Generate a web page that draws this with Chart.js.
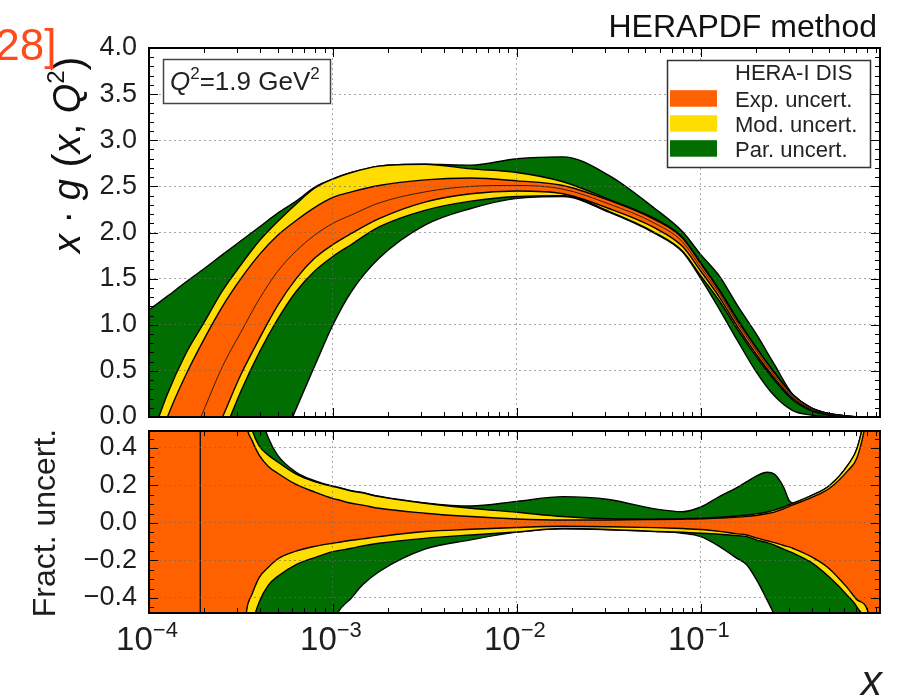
<!DOCTYPE html>
<html>
<head>
<meta charset="utf-8">
<script src="https://cdn.jsdelivr.net/npm/chart.js@4.4.1/dist/chart.umd.min.js"></script>
<style>
  html, body { margin: 0; padding: 0; background: #fff; }
  #wrap { position: relative; width: 900px; height: 698px; overflow: hidden; }
  canvas { position: absolute; left: 0; }
  #gluon { top: 0; }
  #ratio { top: 425px; }
</style>
</head>
<body>
<div id="wrap">
  <canvas id="gluon" width="900" height="440"></canvas>
  <canvas id="ratio" width="900" height="273"></canvas>
</div>
<script>
const FONT = '"Liberation Sans", Arial, sans-serif';

// x range and axis ticks
const X_MIN = 1e-4;
const X_MAX = 0.942;
const decadeTicks = [1e-4, 1e-3, 1e-2, 1e-1];
const decadeExponents = ['\u22124', '\u22123', '\u22122', '\u22121'];
const gluonTicks = [0, 0.5, 1, 1.5, 2, 2.5, 3, 3.5, 4];
const fracTicks = [-0.4, -0.2, 0, 0.2, 0.4];

// upper panel: x*g(x,Q^2) central value and band edges
const xg = [1.00e-4, 1.26e-4, 1.58e-4, 2.00e-4, 2.51e-4, 3.16e-4, 3.98e-4, 5.01e-4, 6.31e-4, 7.94e-4,
            1.00e-3, 1.26e-3, 1.78e-3, 3.16e-3, 5.62e-3, 1.00e-2, 1.78e-2, 3.16e-2, 5.62e-2, 7.94e-2,
            0.100, 0.126, 0.158, 0.200, 0.251, 0.316, 0.398, 0.501, 0.631, 0.794, 0.942];
const gCentral = [-1.2, -0.8, -0.38, 0.09, 0.55, 0.92, 1.28, 1.58, 1.80, 1.97,
                  2.10, 2.19, 2.32, 2.44, 2.50, 2.51, 2.47, 2.31, 2.10, 1.90,
                  1.62, 1.34, 1.02, 0.72, 0.45, 0.22, 0.09, 0.03, 0.008, 0.0, 0.0];
const gExpHi = [-0.6, 0.0, 0.45, 0.85, 1.20, 1.50, 1.76, 1.97, 2.13, 2.27,
                2.38, 2.44, 2.51, 2.57, 2.59, 2.56, 2.51, 2.35, 2.14, 1.94,
                1.66, 1.37, 1.05, 0.75, 0.48, 0.24, 0.10, 0.035, 0.01, 0.0, 0.0];
const gExpLo = [-1.7, -1.3, -0.9, -0.45, 0.0, 0.46, 0.85, 1.21, 1.50, 1.72,
                1.87, 1.99, 2.15, 2.33, 2.42, 2.45, 2.42, 2.26, 2.05, 1.85,
                1.58, 1.30, 0.98, 0.68, 0.42, 0.20, 0.075, 0.024, 0.006, 0.0, 0.0];
const gModHi = [-0.3, 0.25, 0.68, 1.03, 1.37, 1.65, 1.91, 2.12, 2.31, 2.48,
                2.58, 2.65, 2.72, 2.74, 2.69, 2.65, 2.55, 2.36, 2.15, 1.95,
                1.67, 1.38, 1.06, 0.755, 0.485, 0.245, 0.10, 0.035, 0.01, 0.0, 0.0];
const gModLo = [-1.8, -1.4, -1.0, -0.6, -0.2, 0.28, 0.70, 1.06, 1.36, 1.58,
                1.74, 1.87, 2.06, 2.24, 2.34, 2.39, 2.40, 2.23, 2.00, 1.80,
                1.53, 1.26, 0.95, 0.655, 0.40, 0.185, 0.07, 0.021, 0.005, 0.0, 0.0];
const gParHi = [1.16, 1.31, 1.46, 1.61, 1.76, 1.91, 2.06, 2.21, 2.34, 2.49,
                2.58, 2.65, 2.72, 2.74, 2.73, 2.80, 2.82, 2.62, 2.26, 2.01,
                1.76, 1.53, 1.21, 0.90, 0.57, 0.245, 0.10, 0.035, 0.01, 0.0, 0.0];
const gParLo = [-3.5, -3.0, -2.5, -2.05, -1.6, -1.2, -0.8, -0.38, 0.09, 0.55,
                1.0, 1.36, 1.72, 2.08, 2.26, 2.37, 2.39, 2.22, 1.99, 1.79,
                1.50, 1.17, 0.83, 0.49, 0.23, 0.07, 0.02, 0.005, 0.0, 0.0, 0.0];

// lower panel: fractional band edges
const xr = [1.00e-4, 3.16e-4, 3.39e-4, 3.63e-4, 3.98e-4, 4.47e-4, 5.01e-4, 6.31e-4, 7.94e-4, 1.00e-3,
            1.05e-3, 1.26e-3, 1.45e-3, 1.78e-3, 3.16e-3, 5.62e-3, 1.00e-2, 1.78e-2, 3.16e-2, 5.62e-2,
            7.94e-2, 0.100, 0.126, 0.158, 0.178, 0.200, 0.229, 0.251, 0.282, 0.302,
            0.316, 0.398, 0.501, 0.631, 0.708, 0.794, 0.871, 0.942];
const rExpHi = [0.8, 0.8, 0.52, 0.44, 0.36, 0.30, 0.265, 0.205, 0.165, 0.13,
                0.125, 0.105, 0.095, 0.078, 0.052, 0.034, 0.021, 0.016, 0.016, 0.018,
                0.02, 0.022, 0.026, 0.031, 0.035, 0.04, 0.05, 0.058, 0.075, 0.088,
                0.096, 0.135, 0.185, 0.28, 0.35, 0.56, 0.9, 1.0];
const rExpLo = [-0.8, -0.8, -0.47, -0.38, -0.29, -0.235, -0.192, -0.15, -0.125, -0.108,
                -0.105, -0.092, -0.085, -0.073, -0.046, -0.034, -0.024, -0.018, -0.02, -0.025,
                -0.03, -0.035, -0.045, -0.058, -0.064, -0.08, -0.095, -0.105, -0.12, -0.128,
                -0.135, -0.18, -0.245, -0.35, -0.41, -0.45, -0.62, -0.9];
const rModHi = [0.9, 0.9, 0.65, 0.5, 0.41, 0.36, 0.325, 0.26, 0.22, 0.194,
                0.19, 0.17, 0.16, 0.14, 0.105, 0.078, 0.057, 0.034, 0.022, 0.02,
                0.022, 0.025, 0.03, 0.037, 0.042, 0.048, 0.058, 0.068, 0.085, 0.097,
                0.105, 0.145, 0.20, 0.31, 0.40, 0.62, 0.95, 1.0];
const rModLo = [-0.9, -0.9, -0.75, -0.55, -0.42, -0.33, -0.285, -0.222, -0.185, -0.153,
                -0.149, -0.135, -0.122, -0.108, -0.082, -0.064, -0.048, -0.03, -0.035, -0.045,
                -0.05, -0.055, -0.06, -0.068, -0.073, -0.09, -0.105, -0.118, -0.14, -0.152,
                -0.16, -0.21, -0.29, -0.39, -0.45, -0.56, -0.9, -1.0];
const rParHi = [1.0, 1.0, 0.9, 0.8, 0.6, 0.45, 0.36, 0.27, 0.225, 0.196,
                0.192, 0.172, 0.162, 0.142, 0.107, 0.09, 0.115, 0.14, 0.125, 0.075,
                0.06, 0.085, 0.14, 0.19, 0.22, 0.25, 0.27, 0.26, 0.19, 0.12,
                0.105, 0.145, 0.20, 0.31, 0.40, 0.62, 0.95, 1.0];
const rParLo = [-1.0, -1.0, -1.0, -1.0, -1.0, -1.0, -1.0, -1.0, -1.0, -0.56,
                -0.49, -0.40, -0.33, -0.26, -0.14, -0.09, -0.049, -0.031, -0.036, -0.046,
                -0.055, -0.073, -0.125, -0.19, -0.224, -0.30, -0.41, -0.49, -0.62, -0.7,
                -0.75, -0.9, -1.0, -1.0, -1.0, -1.0, -1.0, -1.0];

// x where the central value crosses zero (ratio diverges)
const xZero = 1.9e-4;

const EXP_COLOR = '#ff6000';
const MOD_COLOR = '#ffdd00';
const PAR_COLOR = '#006e00';
const GRID_COLOR = 'rgba(105,105,105,0.6)';
const legendHeader = 'HERA-I DIS';

Chart.defaults.font.family = FONT;

const pts = (xs, ys) => xs.map((x, i) => ({ x, y: ys[i] }));

// two edges of one band; the lower edge carries the fill so both outlines sit on top
function band(xs, hi, lo, label, color, order) {
  return [
    { data: pts(xs, hi), borderColor: '#000', borderWidth: 1.4, fill: false, order },
    { label, data: pts(xs, lo), borderColor: '#000', borderWidth: 1.4, fill: '-1',
      backgroundColor: color, order }
  ];
}

function drawRuns(ctx, parts, x, y) {
  let cx = x;
  for (const p of parts) {
    ctx.font = p.font;
    ctx.fillText(p.text, cx, y + (p.dy || 0));
    cx += ctx.measureText(p.text).width;
  }
  return cx - x;
}
function runsWidth(ctx, parts) {
  let w = 0;
  for (const p of parts) { ctx.font = p.font; w += ctx.measureText(p.text).width; }
  return w;
}

// frame with inward major/minor ticks on all four sides
const frame = {
  id: 'frame',
  afterDraw(chart, args, opts) {
    const { ctx, chartArea: a, scales: { x, y } } = chart;
    ctx.save();
    ctx.strokeStyle = '#000';
    ctx.lineWidth = 1;
    ctx.beginPath();
    const tickX = (v, len) => {
      const p = Math.round(x.getPixelForValue(v)) + 0.5;
      ctx.moveTo(p, a.bottom); ctx.lineTo(p, a.bottom - len);
      ctx.moveTo(p, a.top); ctx.lineTo(p, a.top + len);
    };
    const tickY = (v, len) => {
      const p = Math.round(y.getPixelForValue(v)) + 0.5;
      ctx.moveTo(a.left, p); ctx.lineTo(a.left + len, p);
      ctx.moveTo(a.right, p); ctx.lineTo(a.right - len, p);
    };
    decadeTicks.forEach(d => {
      tickX(d, 9);
      for (let k = 2; k < 10; k++) if (k * d < X_MAX) tickX(k * d, 5);
    });
    const step = opts.minorStep;
    for (let k = Math.ceil(y.min / step); k * step <= y.max + 1e-9; k++) {
      const v = k * step;
      const major = opts.majors.some(m => Math.abs(m - v) < 1e-6);
      tickY(v, major ? 9 : 5);
    }
    ctx.stroke();
    ctx.lineWidth = 2;
    ctx.strokeRect(a.left, a.top, a.right - a.left, a.bottom - a.top);
    ctx.restore();
  }
};

// heading, y title, Q^2 box and legend of the upper panel
const gluonDecor = {
  id: 'gluonDecor',
  afterDraw(chart) {
    const { ctx, chartArea: a } = chart;
    ctx.save();
    ctx.textBaseline = 'alphabetic';
    ctx.fillStyle = '#111';
    ctx.font = '32px ' + FONT;
    ctx.textAlign = 'right';
    ctx.fillText('HERAPDF method', 877, 37);
    ctx.textAlign = 'left';

    ctx.save();
    ctx.translate(80, 253);
    ctx.rotate(-Math.PI / 2);
    drawRuns(ctx, [
      { text: 'x', font: 'italic 38px ' + FONT },
      { text: ' \u00b7 ', font: '38px ' + FONT },
      { text: 'g', font: 'italic 38px ' + FONT },
      { text: ' (', font: '42px ' + FONT, dy: 2 },
      { text: 'x', font: 'italic 38px ' + FONT },
      { text: ', ', font: '38px ' + FONT },
      { text: 'Q', font: 'italic 38px ' + FONT },
      { text: '2', font: '24px ' + FONT, dy: -16 },
      { text: ')', font: '42px ' + FONT, dy: 2 }
    ], 0, 0);
    ctx.restore();

    ctx.fillStyle = '#ff4a1c';
    ctx.font = '44px ' + FONT;
    ctx.fillText('[28]', -17, 60);

    // Q^2 label box
    const qx = a.left + 14, qy = a.top + 11;
    ctx.fillStyle = '#fff';
    ctx.fillRect(qx, qy, 167, 44);
    ctx.strokeStyle = '#444';
    ctx.lineWidth = 1.5;
    ctx.strokeRect(qx + 0.5, qy + 0.5, 167, 44);
    ctx.fillStyle = '#222';
    drawRuns(ctx, [
      { text: 'Q', font: 'italic 26px ' + FONT },
      { text: '2', font: '17px ' + FONT, dy: -11 },
      { text: '=1.9 GeV', font: '26px ' + FONT },
      { text: '2', font: '17px ' + FONT, dy: -11 }
    ], qx + 7, qy + 31);

    // legend box
    const lx = a.right - 213, ly = a.top + 12, lw = 203, lh = 107;
    ctx.fillStyle = '#fff';
    ctx.fillRect(lx, ly, lw, lh);
    ctx.strokeStyle = '#333';
    ctx.strokeRect(lx + 0.5, ly + 0.5, lw, lh);
    ctx.font = '22px ' + FONT;
    ctx.fillStyle = '#222';
    ctx.fillText(legendHeader, lx + 68, ly + 20);
    const entries = chart.data.datasets.filter(d => d.label && d.fill).sort((p, q) => p.order - q.order);
    entries.forEach((ds, i) => {
      const base = ly + 46.7 + 25 * i;
      ctx.fillStyle = ds.backgroundColor;
      ctx.fillRect(lx + 3, base - 16.5, 47, 16.5);
      ctx.fillStyle = '#222';
      ctx.fillText(ds.label, lx + 68, base);
    });
    ctx.restore();
  }
};

// x tick labels and axis titles of the lower panel
const ratioDecor = {
  id: 'ratioDecor',
  afterDraw(chart) {
    const { ctx, scales: { x } } = chart;
    ctx.save();
    ctx.fillStyle = '#1e1e1e';
    ctx.textAlign = 'left';
    decadeTicks.forEach((d, i) => {
      const parts = [
        { text: '10', font: '33px ' + FONT },
        { text: decadeExponents[i], font: '22px ' + FONT, dy: -13 }
      ];
      const w = runsWidth(ctx, parts);
      drawRuns(ctx, parts, x.getPixelForValue(d) - w / 2 - 2, 225);
    });
    ctx.save();
    ctx.translate(55, 98);
    ctx.rotate(-Math.PI / 2);
    ctx.textAlign = 'center';
    ctx.font = '32px ' + FONT;
    ctx.fillText('Fract. uncert.', 0, 0);
    ctx.restore();
    ctx.textAlign = 'right';
    ctx.font = 'italic 42px ' + FONT;
    ctx.fillText('x', 882, 270);
    ctx.restore();
  }
};

const fmt = v => v.toFixed(1).replace('-', '\u2212');

function xAxis() {
  return {
    type: 'logarithmic', min: X_MIN, max: X_MAX,
    afterBuildTicks: s => { s.ticks = decadeTicks.map(v => ({ value: v })); },
    ticks: { display: false },
    grid: { color: GRID_COLOR, lineWidth: 1, drawTicks: false, z: 1 },
    border: { display: false, dash: [2, 3] },
    afterFit: s => { s.height = 0; s.paddingLeft = 0; s.paddingRight = 0; }
  };
}
function yAxis(min, max, ticks) {
  return {
    min, max,
    afterBuildTicks: s => { s.ticks = ticks.map(v => ({ value: v })); },
    ticks: { padding: 12, autoSkip: false, color: '#1e1e1e', font: { size: 27 }, callback: v => fmt(v) },
    grid: { color: GRID_COLOR, lineWidth: 1, drawTicks: false, z: 1 },
    border: { display: false, dash: [2, 3] },
    afterFit: s => { s.width = 149; s.paddingTop = 0; s.paddingBottom = 0; }
  };
}
const baseOptions = {
  responsive: false,
  animation: false,
  devicePixelRatio: 1,
  events: [],
  plugins: { legend: { display: false }, tooltip: { enabled: false } },
  elements: { point: { radius: 0 }, line: { cubicInterpolationMode: 'monotone' } }
};

new Chart(document.getElementById('gluon'), {
  type: 'line',
  data: {
    datasets: [
      ...band(xg, gParHi, gParLo, 'Par. uncert.', PAR_COLOR, 3),
      ...band(xg, gModHi, gModLo, 'Mod. uncert.', MOD_COLOR, 2),
      ...band(xg, gExpHi, gExpLo, 'Exp. uncert.', EXP_COLOR, 1),
      { data: pts(xg, gCentral), borderColor: 'rgba(20,20,20,0.85)', borderWidth: 1, fill: false, order: 0 }
    ]
  },
  options: {
    ...baseOptions,
    layout: { padding: { left: 0, right: 20, top: 48, bottom: 23 } },
    plugins: { ...baseOptions.plugins, frame: { minorStep: 0.1, majors: gluonTicks } },
    scales: { x: xAxis(), y: yAxis(0, 4, gluonTicks) }
  },
  plugins: [frame, gluonDecor]
});

new Chart(document.getElementById('ratio'), {
  type: 'line',
  data: {
    datasets: [
      ...band(xr, rParHi, rParLo, 'Par. uncert.', PAR_COLOR, 3),
      ...band(xr, rModHi, rModLo, 'Mod. uncert.', MOD_COLOR, 2),
      ...band(xr, rExpHi, rExpLo, 'Exp. uncert.', EXP_COLOR, 1),
      { data: [{ x: xZero, y: -1 }, { x: xZero, y: 1 }], borderColor: '#111', borderWidth: 1.4,
        fill: false, order: 0, cubicInterpolationMode: 'default', tension: 0 }
    ]
  },
  options: {
    ...baseOptions,
    layout: { padding: { left: 0, right: 20, top: 6, bottom: 85 } },
    plugins: { ...baseOptions.plugins, frame: { minorStep: 0.05, majors: fracTicks } },
    scales: { x: xAxis(), y: yAxis(-0.48, 0.49, fracTicks) }
  },
  plugins: [frame, ratioDecor]
});
</script>
</body>
</html>
